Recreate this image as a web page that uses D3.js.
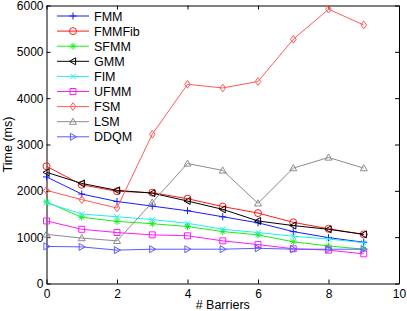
<!DOCTYPE html>
<html>
<head>
<meta charset="utf-8">
<script src="https://cdn.jsdelivr.net/npm/d3@7"></script>
<style>
  body { margin: 0; background: #fff; }
  svg { font-family: "Liberation Sans", Arial, sans-serif; }
  .axis path, .axis line { stroke: #000; }
  .axis text { font-size: 12px; fill: #000; font-family: "Liberation Sans", Arial, sans-serif; }
</style>
</head>
<body>
<svg id="chart"></svg>
<script>
// x values: number of barriers
const barriers = [0, 1, 2, 3, 4, 5, 6, 7, 8, 9];

const fmm    = [2300, 1930, 1770, 1670, 1570, 1440, 1310, 1120, 990, 890];
const fmmFib = [2530, 2130, 1990, 1960, 1830, 1660, 1520, 1320, 1180, 1060];
const sfmm   = [1760, 1430, 1340, 1290, 1230, 1120, 1050, 900, 810, 740];
const gmm    = [2400, 2160, 2010, 1950, 1780, 1600, 1350, 1250, 1170, 1060];
const fim    = [1740, 1500, 1440, 1380, 1300, 1170, 1100, 1020, 960, 880];
const ufmm   = [1350, 1170, 1100, 1050, 1030, 920, 840, 750, 720, 640];
const fsm    = [2010, 1810, 1630, 3220, 4300, 4220, 4360, 5270, 5920, 5580];
const lsm    = [1060, 980, 920, 1750, 2590, 2440, 1730, 2490, 2720, 2490];
const ddqm   = [800, 790, 720, 740, 740, 740, 760, 740, 740, 740];

const xTicks = [0, 2, 4, 6, 8, 10];
const yTicks = [0, 1000, 2000, 3000, 4000, 5000, 6000];

const series = [
    {name: 'FMM',    values: fmm,    color: '#1a1aff', marker: 'plus'},
    {name: 'FMMFib', values: fmmFib, color: '#ff1a1a', marker: 'circle'},
    {name: 'SFMM',   values: sfmm,   color: '#1aee1a', marker: 'star'},
    {name: 'GMM',    values: gmm,    color: '#000000', marker: 'triLeft'},
    {name: 'FIM',    values: fim,    color: '#1af0f0', marker: 'cross'},
    {name: 'UFMM',   values: ufmm,   color: '#ff1aff', marker: 'square'},
    {name: 'FSM',    values: fsm,    color: '#ff5a5a', marker: 'diamond'},
    {name: 'LSM',    values: lsm,    color: '#8c8c8c', marker: 'triUp'},
    {name: 'DDQM',   values: ddqm,   color: '#5a5aff', marker: 'triRight'}
];

const config = {
    width: 407,
    height: 311,
    margin: {top: 5.5, right: 8, bottom: 27.5, left: 46.5}
};

const svg = d3.select('#chart')
    .attr('width', config.width)
    .attr('height', config.height);

let w = config.width - config.margin.left - config.margin.right;
let h = config.height - config.margin.top - config.margin.bottom;

const chart = svg.append('g')
    .attr('transform', `translate(${config.margin.left}, ${config.margin.top})`);

const xScale = d3.scaleLinear().domain([0, 10]).range([0, w]);
const yScale = d3.scaleLinear().domain([0, 6000]).range([h, 0]);

const fmt = d3.format('d');

// axes with inward ticks on all four sides (matlab box style)
chart.append('g')
    .attr('class', 'axis x-axis')
    .attr('transform', `translate(0, ${h})`)
    .call(d3.axisBottom(xScale).tickValues(xTicks).tickFormat(fmt).tickSizeInner(-4).tickSizeOuter(0).tickPadding(6));

chart.append('g')
    .attr('class', 'axis y-axis')
    .call(d3.axisLeft(yScale).tickValues(yTicks).tickFormat(fmt).tickSizeInner(-4).tickSizeOuter(0).tickPadding(3));

chart.append('g')
    .attr('class', 'axis')
    .call(d3.axisTop(xScale).tickValues(xTicks).tickSizeInner(-4).tickSizeOuter(0).tickFormat(''));

chart.append('g')
    .attr('class', 'axis')
    .attr('transform', `translate(${w}, 0)`)
    .call(d3.axisRight(yScale).tickValues(yTicks).tickSizeInner(-4).tickSizeOuter(0).tickFormat(''));

chart.selectAll('.axis path').attr('stroke-width', 1);
chart.selectAll('.axis .tick line').attr('stroke', '#666');

// axis titles
svg.append('text')
    .attr('x', config.margin.left + w / 2)
    .attr('y', 309)
    .attr('text-anchor', 'middle')
    .attr('font-size', 12.5)
    .text('# Barriers');

svg.append('text')
    .attr('transform', `translate(12, ${config.margin.top + h / 2}) rotate(-90)`)
    .attr('text-anchor', 'middle')
    .attr('font-size', 12.5)
    .text('Time (ms)');

// marker shapes
function markerPath(type) {
    let r = 3.5;
    switch (type) {
        case 'plus': return `M${-r},0H${r}M0,${-r}V${r}`;
        case 'cross': return `M${-r*0.75},${-r*0.75}L${r*0.75},${r*0.75}M${-r*0.75},${r*0.75}L${r*0.75},${-r*0.75}`;
        case 'star': {
            let a = r * 0.7;
            return `M${-r},0H${r}M0,${-r}V${r}M${-a},${-a}L${a},${a}M${-a},${a}L${a},${-a}`;
        }
        case 'circle': return d3.symbol(d3.symbolCircle, Math.PI * r * r)();
        case 'square': return `M${-r*0.85},${-r*0.85}H${r*0.85}V${r*0.85}H${-r*0.85}Z`;
        case 'diamond': return `M0,${-r*1.1}L${r*0.8},0L0,${r*1.1}L${-r*0.8},0Z`;
        case 'triUp': return `M0,${-r}L${r},${r*0.75}L${-r},${r*0.75}Z`;
        case 'triLeft': return `M${-r},0L${r*0.75},${-r}L${r*0.75},${r}Z`;
        case 'triRight': return `M${r},0L${-r*0.75},${-r}L${-r*0.75},${r}Z`;
    }
}

const line = d3.line()
    .x((d, i) => xScale(barriers[i]))
    .y(d => yScale(d));

const groups = chart.selectAll('.series')
    .data(series)
    .join('g')
    .attr('class', 'series');

groups.append('path')
    .attr('d', d => line(d.values))
    .attr('fill', 'none')
    .attr('stroke', d => d.color)
    .attr('stroke-width', 1);

groups.each(function(s) {
    d3.select(this).selectAll('.mark')
        .data(s.values)
        .join('path')
        .attr('class', 'mark')
        .attr('transform', (d, i) => `translate(${xScale(barriers[i])}, ${yScale(d)})`)
        .attr('d', markerPath(s.marker))
        .attr('fill', 'none')
        .attr('stroke', s.color)
        .attr('stroke-width', 1);
});

// legend (no box)
const legend = svg.append('g')
    .attr('transform', 'translate(57, 16)');

const rows = legend.selectAll('.row')
    .data(series)
    .join('g')
    .attr('class', 'row')
    .attr('transform', (d, i) => `translate(0, ${i * 15.1})`);

rows.append('line')
    .attr('x1', 0).attr('x2', 32)
    .attr('stroke', d => d.color)
    .attr('stroke-width', 1);

rows.append('path')
    .attr('transform', 'translate(16, 0)')
    .attr('d', d => markerPath(d.marker))
    .attr('fill', 'none')
    .attr('stroke', d => d.color);

rows.append('text')
    .attr('x', 37)
    .attr('y', 4.5)
    .attr('font-size', 12.5)
    .text(d => d.name);
</script>
</body>
</html>
